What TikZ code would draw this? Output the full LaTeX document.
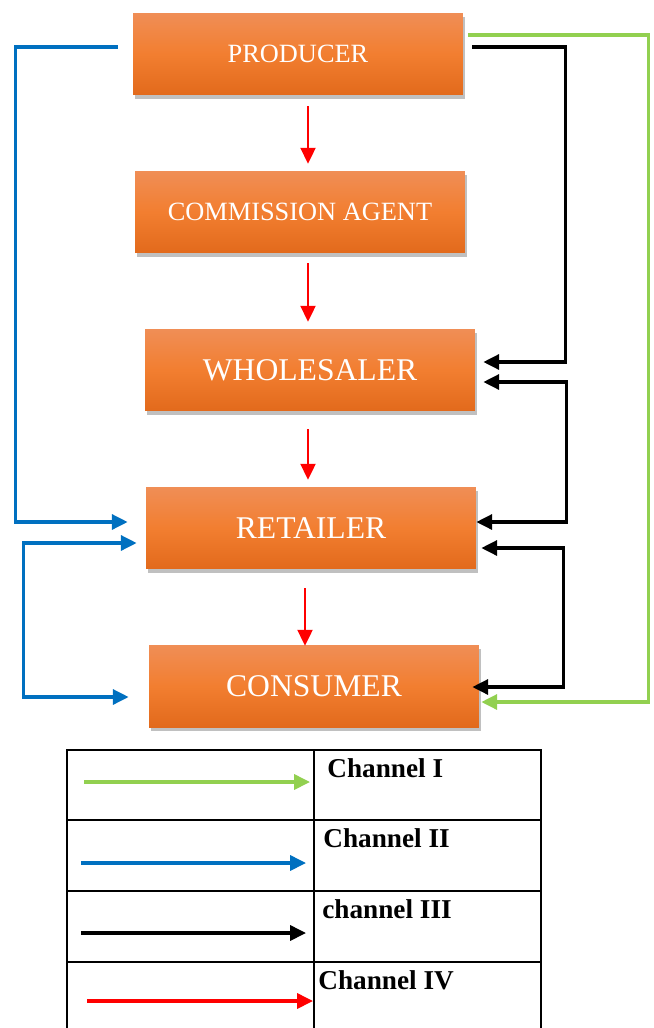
\documentclass[tikz,border=0pt]{standalone}
\usepackage{fontspec}
\setmainfont{Liberation Serif}
\usetikzlibrary{arrows.meta,shadows}

\definecolor{boxtop}{RGB}{240,142,86}
\definecolor{boxmid}{RGB}{242,126,48}
\definecolor{boxbot}{RGB}{226,106,28}
\definecolor{chgreen}{RGB}{146,208,80}
\definecolor{chblue}{RGB}{0,112,192}
\definecolor{chred}{RGB}{255,0,0}

\tikzset{
  stage/.style={minimum width=6.6cm, minimum height=1.64cm, inner sep=0pt,
    top color=boxtop, bottom color=boxbot, middle color=boxmid, text=white,
    drop shadow={shadow xshift=1.2pt, shadow yshift=-2.2pt, fill=black!45, opacity=0.55}},
  bigtxt/.style={font=\fontsize{18}{20}\selectfont},
  smalltxt/.style={font=\fontsize{15}{17}\selectfont},
  flow/.style={line width=1.9pt, -{Triangle[length=9pt,width=8.5pt]}},
  both/.style={{Triangle[length=9pt,width=8.5pt]}-{Triangle[length=9pt,width=8.5pt]}},
  chI/.style={flow, chgreen},
  chII/.style={flow, chblue},
  chIII/.style={flow, black},
  chIV/.style={flow, chred, line width=1.4pt},
  legtxt/.style={anchor=base west, inner sep=0pt, font=\bfseries\fontsize{15.5}{17}\selectfont}
}

\begin{document}
\begin{tikzpicture}[x=0.02cm, y=-0.02cm]
  \useasboundingbox (0,0) rectangle (653,1028);

  % Stages of the channel
  \node[stage, smalltxt] (prod)  at (298,54)  {PRODUCER};
  \node[stage, smalltxt] (agent) at (300,212) {COMMISSION AGENT};
  \node[stage, bigtxt]   (whole) at (310,370) {WHOLESALER};
  \node[stage, bigtxt]   (ret)   at (311,528) {RETAILER};
  \node[stage, bigtxt]   (cons)  at (314,686) {CONSUMER};

  % Channel IV: straight down through every stage
  \foreach \a/\b/\sx/\sy/\ex/\ey in {prod/agent/10/11/8/-7, agent/whole/8/10/-2/-7,
      whole/ret/-2/18/-3/-7, ret/cons/-6/19/-9/1} {
    \draw[chIV] ([shift={(\sx,\sy)}]\a.south) -- ([shift={(\ex,\ey)}]\b.north);
  }

  % Channel II: left side
  \draw[chII] ([shift={(-15,-7)}]prod.west) -- ++(-102,0) |- ([shift={(-18,-6)}]ret.west);
  \draw[chII, both]
    ([shift={(-9,15)}]ret.west) -- ++(-113,0) |- ([shift={(-20,11)}]cons.west);

  % Channel III: right side
  \draw[chIII] ([shift={(9,-7)}]prod.east) -- ++(93,0) |- ([shift={(8,-8)}]whole.east);
  \draw[chIII, both]
    ([shift={(8,12)}]whole.east) -- ++(83,0) |- ([shift={(0,-6)}]ret.east);
  \draw[chIII, both]
    ([shift={(5,20)}]ret.east) -- ++(82,0) |- ([shift={(-7,1)}]cons.east);

  % Channel I: producer straight to consumer
  \draw[chI] ([shift={(5,-19)}]prod.east) -- ++(180,0) |- ([shift={(2,16)}]cons.east);

  % Legend table
  \draw[line width=0.9pt] (67,1028) |- (541,750) -- (541,1028);
  \draw[line width=0.9pt] (314,750) -- (314,1028);
  \foreach \y in {820,891,962} {
    \draw[line width=0.9pt] (67,\y) -- (541,\y);
  }

  \foreach \n/\st/\xa/\xb/\ya/\xt/\yt/\txt in {1/chI/84/310/782/327/777/{Channel I},
      2/chII/81/306/863/323/847/{Channel II},
      3/chIII/81/306/933/322/918/{channel III},
      4/chIV/87/313/1001/318/989/{Channel IV}} {
    \coordinate (ls\n) at (\xa,\ya);
    \coordinate (le\n) at (\xb,\ya);
    \draw[\st, line width=1.9pt] (ls\n) -- (le\n);
    \node[legtxt] (lab\n) at (\xt,\yt) {\txt};
  }
\end{tikzpicture}
\end{document}
